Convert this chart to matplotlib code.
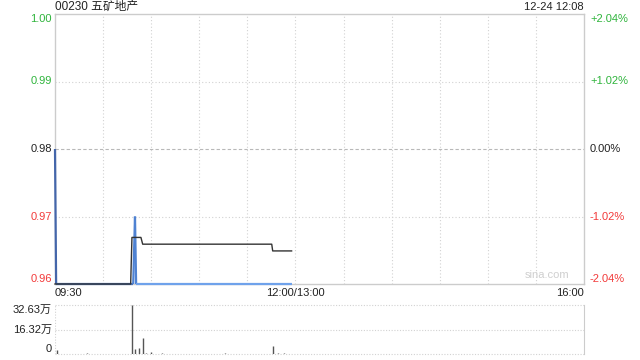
import matplotlib
matplotlib.use('Agg')
import matplotlib.pyplot as plt
import matplotlib.transforms as mtransforms
from matplotlib.collections import LineCollection
from matplotlib.colors import LinearSegmentedColormap

plt.rcParams['font.family'] = ['Liberation Sans', 'Noto Sans CJK SC', 'DejaVu Sans']

title = '00230 五矿地产'
stamp = '12-24 12:08'
prev_close = 0.98

# minutes since 09:30 (morning 0-150, afternoon 150-330)
price_t = [0, 0.7, 48.8, 49.9, 50.6, 147.6]
price_v = [0.98, 0.96, 0.96, 0.97, 0.96, 0.96]

avg_t = [0, 47.2, 48.0, 53.6, 54.7, 135.2, 135.8, 147.6]
avg_v = [0.96, 0.96, 0.9669, 0.9669, 0.9659, 0.9659, 0.9649, 0.9649]

# volume in 万
vol_t = [1.4, 5, 9, 14, 19.8, 24, 29, 33, 38, 42, 46, 48.2, 49.7, 52.6, 55.1, 57,
         59.9, 63, 67, 72, 77, 82, 88, 94, 100, 106, 112, 118, 124, 130, 136.2,
         139, 143, 146]
vol_v = [2.6, 0.3, 0.3, 0.3, 0.6, 0.3, 0.3, 0.3, 0.3, 0.3, 0.3, 32.63, 3.5, 4.0, 10.5, 0.4,
         1.5, 0.3, 0.5, 0.3, 0.3, 0.3, 0.3, 0.3, 0.3, 0.4, 0.3, 0.3, 0.3, 0.3, 5.3,
         0.6, 0.4, 0.3]
vol_max = 32.63

left_labels = ['1.00', '0.99', '0.98', '0.97', '0.96']
left_ticks = [1.00, 0.99, 0.98, 0.97, 0.96]
right_labels = ['+2.04%', '+1.02%', '0.00%', '-1.02%', '-2.04%']

green = '#2fb43c'
red = '#f23a3a'
grid_c = '#d2d2d2'
frame_c = '#cccccc'
fs = 8

fig = plt.figure(figsize=(6.4, 3.6), dpi=100)
W, H = 640, 360
ax = fig.add_axes([55 / W, 76 / H, 529 / W, 270 / H])
axv = fig.add_axes([55 / W, 6 / H, 529 / W, 49 / H])

# price panel
ax.set_xlim(0, 330)
ax.set_ylim(0.96, 1.00)
for x in range(30, 330, 30):
    ax.axvline(x, color=grid_c, lw=0.8, ls=(0, (1, 2)), zorder=1)
for y in [0.99, 0.97]:
    ax.axhline(y, color=grid_c, lw=0.8, ls=(0, (1, 2)), zorder=1)
ax.axhline(prev_close, color='#b8b8b8', lw=0.8, ls=(0, (3, 2)), zorder=1)

# price line, blue fading lighter to the right
cmap = LinearSegmentedColormap.from_list('sina', ['#4466aa', '#5590e6', '#a6c6f4'])
segs = [[(price_t[i], price_v[i]), (price_t[i + 1], price_v[i + 1])] for i in range(len(price_t) - 1)]
mids = [(price_t[i] + price_t[i + 1]) / 2 / 150 for i in range(len(price_t) - 1)]
lc = LineCollection(segs, colors=[cmap(m) for m in mids], linewidths=1.6, zorder=4, clip_on=False)
ax.add_collection(lc)
ax.plot(avg_t, avg_v, color='#333333', lw=1.0, zorder=5, clip_on=False)

for s in ax.spines.values():
    s.set_color(frame_c)
    s.set_linewidth(1)
ax.set_xticks([])
ax.set_yticks([])

ytr = mtransforms.blended_transform_factory(fig.transFigure, ax.transData)
for i, (lab, val, rlab) in enumerate(zip(left_labels, left_ticks, right_labels)):
    if val > prev_close:
        c = green
    elif val < prev_close:
        c = red
    else:
        c = '#222222'
    va = 'top' if i == 0 else ('bottom' if i == len(left_ticks) - 1 else 'center')
    ax.text(52 / W, val, lab, transform=ytr, ha='right', va=va, color=c, fontsize=fs)
    ax.text(590 / W, val, rlab, transform=ytr, ha='left', va=va, color=c, fontsize=fs)

xtr = mtransforms.blended_transform_factory(ax.transData, fig.transFigure)
ax.text(0, 1 - 293 / H, '09:30', transform=xtr, ha='left', va='center', fontsize=fs, color='#222222')
ax.text(150, 1 - 293 / H, '12:00/13:00', transform=xtr, ha='center', va='center', fontsize=fs, color='#222222')
ax.text(330, 1 - 293 / H, '16:00', transform=xtr, ha='right', va='center', fontsize=fs, color='#222222')

fig.text(55 / W, 1 - 7 / H, title, ha='left', va='center', fontsize=fs + 0.5, color='#222222')
fig.text(584 / W, 1 - 7 / H, stamp, ha='right', va='center', fontsize=fs, color='#222222')
ax.text(0.93, 0.015, 'sina.com', transform=ax.transAxes, ha='center', va='bottom',
        fontsize=fs, color='#cfcfcf')

# volume panel
axv.set_xlim(0, 330)
axv.set_ylim(0, vol_max)
axv.vlines(vol_t, 0, vol_v, color='#555555', lw=1)
for y in [0, vol_max / 2, vol_max]:
    axv.axhline(y, color=grid_c, lw=0.8, ls=(0, (1, 1.5)), zorder=0, clip_on=False)
for k in ['top', 'bottom', 'left']:
    axv.spines[k].set_visible(False)
axv.axvline(0, color=grid_c, lw=0.8, ls=(0, (1, 1.5)), zorder=0)
axv.spines['right'].set_color(frame_c)
axv.set_xticks([])
axv.set_yticks([])

vtr = mtransforms.blended_transform_factory(fig.transFigure, axv.transData)
axv.text(52 / W, vol_max, '%.2f万' % vol_max, transform=vtr, ha='right', va='top', fontsize=fs, color='#222222')
axv.text(52 / W, vol_max / 2, '%.2f万' % (vol_max / 2), transform=vtr, ha='right', va='center', fontsize=fs, color='#222222')
axv.text(52 / W, 0, '0', transform=vtr, ha='right', va='bottom', fontsize=fs, color='#222222')

fig.savefig('out.png', dpi=100)
